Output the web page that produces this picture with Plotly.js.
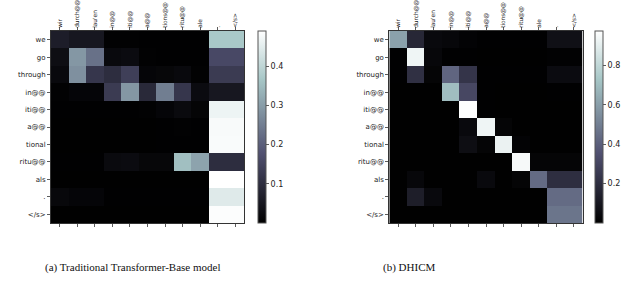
<!DOCTYPE html>
<html>
<head>
<meta charset="utf-8">
<script src="https://cdn.plot.ly/plotly-3.0.1.min.js"></script>
<style>
html,body{margin:0;padding:0;background:#fff;}
#chart{width:640px;height:292px;}
</style>
</head>
<body>
<div id="chart"></div>
<script>
// Source tokens (columns) and target tokens (rows)
const srcTokens = ["wir", "durch@@", "lau'en", "in@@", "iti@@", "a@@", "tions@@", "ritu@@", "ale", ".", "</s>"];
const tgtTokens = ["we", "go", "through", "in@@", "iti@@", "a@@", "tional", "ritu@@", "als", ".", "</s>"];

// (a) Traditional Transformer-Base model attention
const attnBase = [
  [0.065, 0.050, 0.050, 0.005, 0.005, 0.003, 0.003, 0.003, 0.003, 0.370, 0.370],
  [0.030, 0.290, 0.230, 0.020, 0.025, 0.005, 0.003, 0.003, 0.003, 0.160, 0.160],
  [0.020, 0.280, 0.120, 0.100, 0.140, 0.012, 0.015, 0.020, 0.005, 0.130, 0.130],
  [0.004, 0.012, 0.012, 0.130, 0.290, 0.090, 0.250, 0.120, 0.025, 0.050, 0.050],
  [0.003, 0.003, 0.003, 0.003, 0.003, 0.005, 0.012, 0.022, 0.010, 0.465, 0.465],
  [0.002, 0.002, 0.002, 0.002, 0.002, 0.002, 0.003, 0.004, 0.003, 0.480, 0.480],
  [0.002, 0.002, 0.002, 0.002, 0.002, 0.002, 0.003, 0.003, 0.003, 0.482, 0.482],
  [0.003, 0.003, 0.003, 0.022, 0.025, 0.015, 0.015, 0.355, 0.310, 0.100, 0.100],
  [0.002, 0.002, 0.002, 0.002, 0.002, 0.002, 0.002, 0.002, 0.002, 0.490, 0.490],
  [0.018, 0.012, 0.012, 0.003, 0.003, 0.003, 0.003, 0.003, 0.003, 0.445, 0.445],
  [0.002, 0.002, 0.002, 0.002, 0.002, 0.002, 0.002, 0.002, 0.002, 0.486, 0.486]
];

// (b) DHICM attention
const attnDHICM = [
  [0.610, 0.170, 0.040, 0.030, 0.015, 0.005, 0.005, 0.005, 0.005, 0.070, 0.070],
  [0.005, 0.930, 0.030, 0.005, 0.005, 0.003, 0.003, 0.003, 0.003, 0.010, 0.010],
  [0.005, 0.210, 0.020, 0.420, 0.230, 0.005, 0.005, 0.005, 0.005, 0.050, 0.050],
  [0.003, 0.003, 0.003, 0.700, 0.310, 0.005, 0.003, 0.003, 0.003, 0.005, 0.005],
  [0.003, 0.003, 0.003, 0.003, 0.970, 0.005, 0.003, 0.003, 0.003, 0.003, 0.003],
  [0.003, 0.003, 0.003, 0.003, 0.040, 0.930, 0.020, 0.003, 0.003, 0.003, 0.003],
  [0.003, 0.003, 0.003, 0.003, 0.060, 0.020, 0.920, 0.015, 0.003, 0.003, 0.003],
  [0.003, 0.003, 0.003, 0.003, 0.003, 0.003, 0.003, 0.950, 0.020, 0.020, 0.020],
  [0.003, 0.030, 0.003, 0.003, 0.003, 0.040, 0.003, 0.020, 0.440, 0.200, 0.200],
  [0.003, 0.130, 0.040, 0.003, 0.003, 0.003, 0.003, 0.003, 0.003, 0.440, 0.440],
  [0.003, 0.003, 0.003, 0.003, 0.003, 0.003, 0.003, 0.003, 0.003, 0.470, 0.470]
];

const captionA = "(a) Traditional Transformer-Base model";
const captionB = "(b) DHICM";
const cbTicksA = [0.1, 0.2, 0.3, 0.4];
const cbTicksB = [0.2, 0.4, 0.6, 0.8];

// matplotlib "bone" colormap
const bone = [[0, "rgb(0,0,0)"], [0.365, "rgb(81,81,113)"], [0.746, "rgb(166,198,198)"], [1, "rgb(255,255,255)"]];

function esc(s){ return s.replace(/&/g,"&amp;").replace(/</g,"&lt;").replace(/>/g,"&gt;"); }
const idxX = srcTokens.map((_, i) => i);
const idxY = tgtTokens.map((_, i) => i);

const W = 640, H = 292;
const plotTop = 31, plotBot = 223;
const yDom = [1 - plotBot / H, 1 - plotTop / H];

function cb(xpx, ticks) {
  return {
    x: xpx / W, xanchor: "left", xref: "paper",
    y: yDom[1], yanchor: "top", yref: "paper",
    len: plotBot - plotTop, lenmode: "pixels",
    thickness: 8, thicknessmode: "pixels",
    xpad: 0, ypad: 0,
    outlinewidth: 1, outlinecolor: "#555",
    tickvals: ticks, ticks: "outside", ticklen: 3, tickcolor: "#333", tickwidth: 0.8,
    tickfont: {family: "DejaVu Sans", size: 8, color: "#222"}
  };
}

const traces = [
  {type: "heatmap", x: idxX, y: idxY, z: attnBase, colorscale: bone, zmin: 0, zmax: 0.49,
   xaxis: "x", yaxis: "y", colorbar: cb(258, cbTicksA)},
  {type: "heatmap", x: idxX, y: idxY, z: attnDHICM, colorscale: bone, zmin: 0, zmax: 0.975,
   xaxis: "x2", yaxis: "y2", colorbar: cb(595, cbTicksB)}
];

function xax(dom, anchor) {
  return {
    domain: dom, anchor: anchor, side: "top",
    tickmode: "array", tickvals: idxX, ticktext: srcTokens.map(esc),
    tickangle: -90, ticks: "outside", ticklen: 3, tickcolor: "#333", tickwidth: 0.8,
    ticklabelstandoff: -2,
    tickfont: {family: "DejaVu Sans", size: 5.8, color: "#222"},
    showline: true, linecolor: "#333", linewidth: 1, mirror: "ticks",
    showgrid: false, zeroline: false, range: [-0.5, 10.5], fixedrange: true
  };
}
function yax(anchor) {
  return {
    domain: yDom, anchor: anchor,
    tickmode: "array", tickvals: idxY, ticktext: tgtTokens.map(esc),
    ticks: "outside", ticklen: 3, tickcolor: "#333", tickwidth: 0.8,
    tickfont: {family: "DejaVu Sans", size: 7, color: "#222"},
    showline: true, linecolor: "#333", linewidth: 1, mirror: true,
    showgrid: false, zeroline: false, range: [10.5, -0.5]
  };
}

const layout = {
  width: W, height: H,
  margin: {l: 0, r: 0, t: 0, b: 0},
  paper_bgcolor: "#fff", plot_bgcolor: "#fff",
  showlegend: false,
  xaxis: xax([51 / W, 244 / W], "y"),
  yaxis: yax("x"),
  xaxis2: xax([389.3 / W, 582.7 / W], "y2"),
  yaxis2: yax("x2"),
  annotations: [
    {text: captionA, xref: "paper", yref: "paper", x: 132 / W, y: 1 - 267 / H,
     xanchor: "center", yanchor: "middle", showarrow: false,
     font: {family: "Liberation Serif", size: 11, color: "#111"}},
    {text: captionB, xref: "paper", yref: "paper", x: 409 / W, y: 1 - 267 / H,
     xanchor: "center", yanchor: "middle", showarrow: false,
     font: {family: "Liberation Serif", size: 11, color: "#111"}}
  ]
};

Plotly.newPlot("chart", traces, layout, {displayModeBar: false, staticPlot: true});
</script>
</body>
</html>
